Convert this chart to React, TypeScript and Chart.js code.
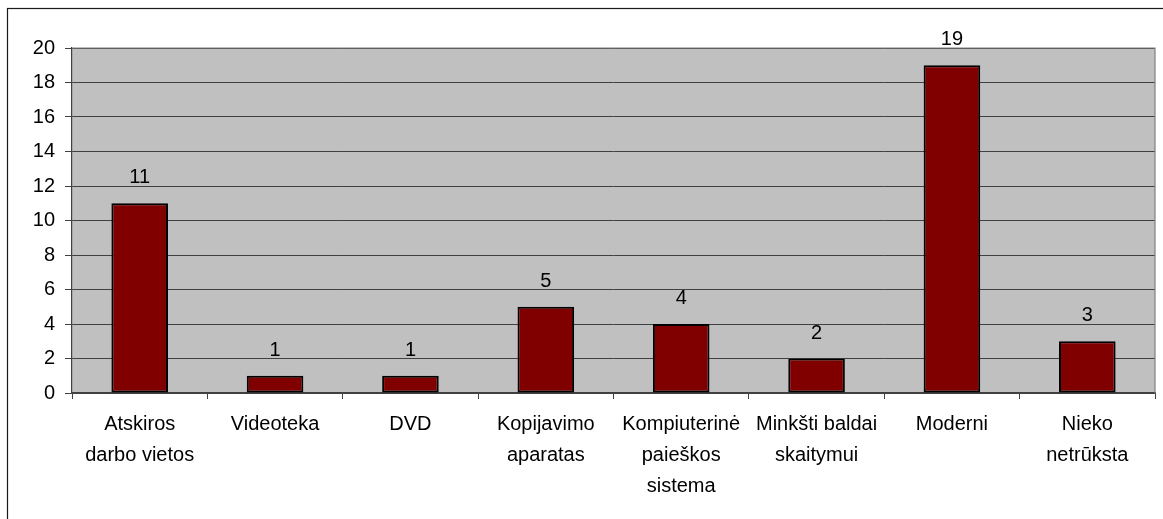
import React, { useEffect, useRef } from "react";
import { Chart, registerables } from "chart.js";

Chart.register(...registerables);

const categories: (string | string[])[] = [
  ["Atskiros", "darbo vietos"],
  "Videoteka",
  "DVD",
  ["Kopijavimo", "aparatas"],
  ["Kompiuterinė", "paieškos", "sistema"],
  ["Minkšti baldai", "skaitymui"],
  "Moderni",
  ["Nieko", "netrūksta"],
];

const counts: number[] = [11, 1, 1, 5, 4, 2, 19, 3];

const yMin = 0;
const yMax = 20;
const yStep = 2;

const FONT = "'Liberation Sans', Arial, sans-serif";

const framePlugin = {
  id: "frame",
  beforeDraw(chart: any) {
    const { ctx, width, height, chartArea } = chart;
    ctx.save();
    ctx.fillStyle = "#ffffff";
    ctx.fillRect(0, 0, width, height);
    // outer border of the chart object
    ctx.strokeStyle = "#1a1a1a";
    ctx.lineWidth = 1.2;
    ctx.strokeRect(7.5, 8.5, width + 10, height + 10);
    // plot area background
    ctx.fillStyle = "#c0c0c0";
    ctx.fillRect(
      chartArea.left,
      chartArea.top,
      chartArea.right - chartArea.left,
      chartArea.bottom - chartArea.top
    );
    ctx.restore();
  },
  afterDatasetsDraw(chart: any) {
    const { ctx, chartArea } = chart;
    ctx.save();
    // top and right edges of the plot area
    ctx.strokeStyle = "#808080";
    ctx.lineWidth = 1.2;
    ctx.beginPath();
    ctx.moveTo(chartArea.left, chartArea.top);
    ctx.lineTo(chartArea.right, chartArea.top);
    ctx.lineTo(chartArea.right, chartArea.bottom);
    ctx.stroke();

    // value labels above each bar
    const meta = chart.getDatasetMeta(0);
    const values = chart.data.datasets[0].data as number[];
    ctx.fillStyle = "#000000";
    ctx.font = `20px ${FONT}`;
    ctx.textAlign = "center";
    ctx.textBaseline = "alphabetic";
    meta.data.forEach((bar: any, i: number) => {
      ctx.fillText(String(values[i]), bar.x, bar.y - 20);
    });
    ctx.restore();
  },
};

export default function App() {
  const canvasRef = useRef<HTMLCanvasElement | null>(null);

  useEffect(() => {
    const canvas = canvasRef.current;
    if (!canvas) return;
    const ctx2d = canvas.getContext("2d") as any;
    if (ctx2d && "letterSpacing" in ctx2d) ctx2d.letterSpacing = "0.4px";
    const chart = new Chart(canvas, {
      type: "bar",
      data: {
        labels: categories,
        datasets: [
          {
            data: counts,
            backgroundColor: "#800000",
            borderColor: "#000000",
            borderWidth: 2,
            borderSkipped: false,
            categoryPercentage: 1,
            barPercentage: 0.418,
          },
        ],
      },
      options: {
        responsive: false,
        animation: false,
        devicePixelRatio: 1,
        layout: { padding: { left: 0, top: 48, right: 8, bottom: 0 } },
        plugins: {
          legend: { display: false },
          tooltip: { enabled: false },
          title: { display: false },
        },
        scales: {
          x: {
            grid: {
              offset: true,
              drawOnChartArea: false,
              drawTicks: true,
              tickLength: 6,
              color: "#404040",
              lineWidth: 1,
            },
            border: { color: "#404040", width: 1.2 },
            ticks: {
              color: "#000000",
              font: { family: FONT, size: 20, lineHeight: 1.55 },
              padding: 10,
              maxRotation: 0,
              minRotation: 0,
              autoSkip: false,
            },
            afterFit(scale: any) {
              scale.height = 126;
              scale.paddingLeft = 0;
              scale.paddingRight = 0;
            },
          },
          y: {
            min: yMin,
            max: yMax,
            grid: {
              color: "#404040",
              lineWidth: 1,
              tickLength: 7,
              drawTicks: true,
            },
            border: { color: "#404040", width: 1.2 },
            ticks: {
              stepSize: yStep,
              color: "#000000",
              font: { family: FONT, size: 20 },
              padding: 10,
            },
            afterFit(scale: any) {
              scale.width = 72;
              scale.paddingTop = 0;
              scale.paddingBottom = 0;
            },
          },
        },
      },
      plugins: [framePlugin],
    });
    return () => chart.destroy();
  }, []);

  return (
    <div style={{ position: "absolute", left: 0, top: 0, width: 1163, height: 519 }}>
      <canvas ref={canvasRef} width={1163} height={519} style={{ display: "block" }} />
    </div>
  );
}
